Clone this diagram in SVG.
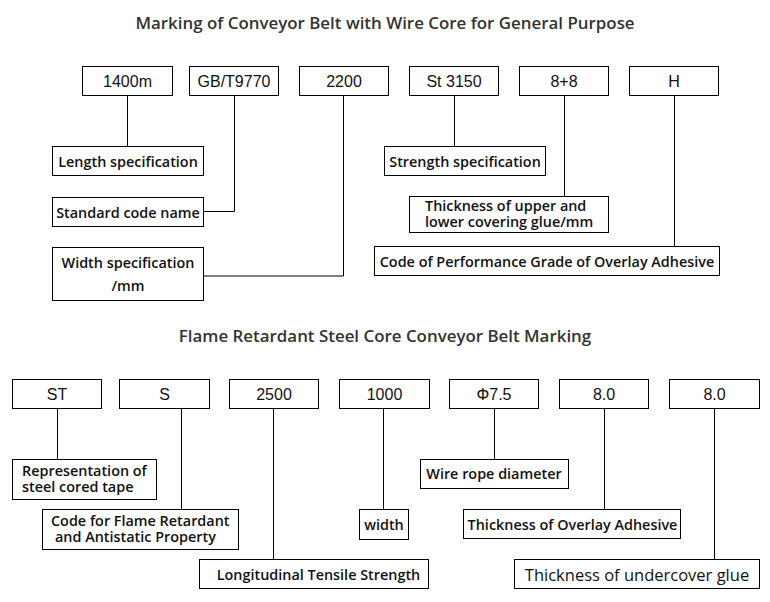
<svg xmlns="http://www.w3.org/2000/svg" width="770" height="602" viewBox="0 0 770 602">
<style>
.bx{fill:#fff;stroke:#000;stroke-width:1}
.ln{fill:none;stroke:#000;stroke-width:1}
.v{font-family:"Liberation Sans",Arial,sans-serif;font-size:16px;fill:#111;text-anchor:middle}
.l{font-family:"Open Sans","Noto Sans",sans-serif;font-size:14.4px;font-weight:600;fill:#111}
.t{font-family:"Open Sans","Noto Sans",sans-serif;font-size:16.9px;font-weight:600;fill:#333;text-anchor:middle}
.m{text-anchor:middle}
</style>
<rect width="770" height="602" fill="#fff"/>
<text class="t" x="385" y="29">Marking of Conveyor Belt with Wire Core for General Purpose</text>
<text class="t" x="385" y="342">Flame Retardant Steel Core Conveyor Belt Marking</text>
<g id="connectors">
<path class="ln" d="M127.5 95V146"/>
<path class="ln" d="M234.5 95V211.5H203"/>
<path class="ln" d="M343.5 95V276H203"/>
<path class="ln" d="M454.5 95V146"/>
<path class="ln" d="M564.5 95V196"/>
<path class="ln" d="M674.5 95V246"/>
<path class="ln" d="M57.5 408V459"/>
<path class="ln" d="M181.5 408V509"/>
<path class="ln" d="M273.5 408V559"/>
<path class="ln" d="M383.5 408V509"/>
<path class="ln" d="M494.5 408V459"/>
<path class="ln" d="M604.5 408V509"/>
<path class="ln" d="M714.5 408V559"/>
</g>
<g id="v1400"><rect class="bx" x="82.5" y="66.5" width="90" height="29"/><text class="v" x="127.5" y="87">1400m</text></g>
<g id="vgb"><rect class="bx" x="189.5" y="66.5" width="89" height="29"/><text class="v" x="234" y="87">GB/T9770</text></g>
<g id="v2200"><rect class="bx" x="299.5" y="66.5" width="89" height="29"/><text class="v" x="344" y="87">2200</text></g>
<g id="vst"><rect class="bx" x="409.5" y="66.5" width="89" height="29"/><text class="v" x="454" y="87">St 3150</text></g>
<g id="v88"><rect class="bx" x="519.5" y="66.5" width="89" height="29"/><text class="v" x="564" y="87">8+8</text></g>
<g id="vh"><rect class="bx" x="629.5" y="66.5" width="89" height="29"/><text class="v" x="674" y="87">H</text></g>
<g id="lLen"><rect class="bx" x="52.5" y="146.5" width="151" height="29"/><text class="l m" x="128" y="166.5">Length specification</text></g>
<g id="lStd"><rect class="bx" x="52.5" y="197.5" width="151" height="29"/><text class="l m" x="128" y="217.5">Standard code name</text></g>
<g id="lWid"><rect class="bx" x="52.5" y="247.5" width="151" height="53"/><text class="l m" x="128" y="268">Width specification<tspan x="128" dy="23">/mm</tspan></text></g>
<g id="lStr"><rect class="bx" x="384.5" y="146.5" width="161" height="29"/><text class="l m" x="465" y="166.5">Strength specification</text></g>
<g id="lThk"><rect class="bx" x="409.5" y="196.5" width="199" height="36"/><text class="l" x="425" y="210.5">Thickness of upper and<tspan x="425" dy="16">lower covering glue/mm</tspan></text></g>
<g id="lCode"><rect class="bx" x="374.5" y="246.5" width="345" height="29"/><text class="l m" x="547" y="266.5">Code of Performance Grade of Overlay Adhesive</text></g>
<g id="vST"><rect class="bx" x="12.5" y="379.5" width="89" height="29"/><text class="v" x="57" y="400">ST</text></g>
<g id="vS"><rect class="bx" x="119.5" y="379.5" width="90" height="29"/><text class="v" x="164.5" y="400">S</text></g>
<g id="v2500"><rect class="bx" x="229.5" y="379.5" width="89" height="29"/><text class="v" x="274" y="400">2500</text></g>
<g id="v1000"><rect class="bx" x="339.5" y="379.5" width="90" height="29"/><text class="v" x="384.5" y="400">1000</text></g>
<g id="vphi"><rect class="bx" x="449.5" y="379.5" width="89" height="29"/><text class="v" x="494" y="400">Φ7.5</text></g>
<g id="v80a"><rect class="bx" x="559.5" y="379.5" width="89" height="29"/><text class="v" x="604" y="400">8.0</text></g>
<g id="v80b"><rect class="bx" x="669.5" y="379.5" width="90" height="29"/><text class="v" x="714.5" y="400">8.0</text></g>
<g id="lRep"><rect class="bx" x="12.5" y="459.5" width="144" height="40"/><text class="l" x="22" y="475.5">Representation of<tspan x="22" dy="16">steel cored tape</tspan></text></g>
<g id="lFlame"><rect class="bx" x="42.5" y="509.5" width="196" height="40"/><text class="l" x="51" y="526">Code for Flame Retardant<tspan x="55" dy="16">and Antistatic Property</tspan></text></g>
<g id="lLong"><rect class="bx" x="199.5" y="559.5" width="229" height="29"/><text class="l m" x="318.5" y="580">Longitudinal Tensile Strength</text></g>
<g id="lWidth"><rect class="bx" x="359.5" y="509.5" width="49" height="30"/><text class="l m" x="384" y="530">width</text></g>
<g id="lWire"><rect class="bx" x="420.5" y="459.5" width="148" height="29"/><text class="l m" x="494" y="478.5">Wire rope diameter</text></g>
<g id="lOver"><rect class="bx" x="463.5" y="509.5" width="217" height="29"/><text class="l m" x="572.5" y="529.5">Thickness of Overlay Adhesive</text></g>
<g id="lUnder"><rect class="bx" x="514.5" y="559.5" width="245" height="29"/><text class="l m" x="637" y="581" style="font-size:16.5px;font-weight:500">Thickness of undercover glue</text></g>
</svg>
